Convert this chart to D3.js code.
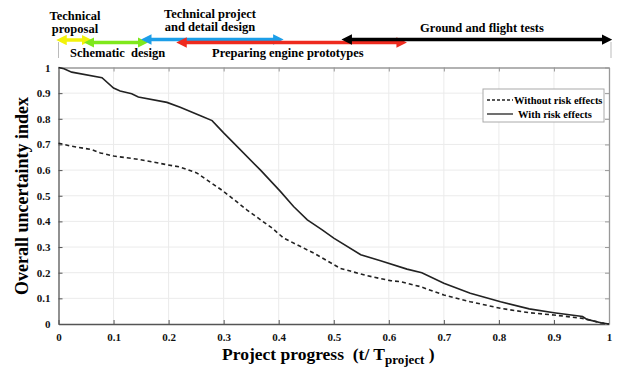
<!DOCTYPE html>
<html>
<head>
<meta charset="utf-8">
<script src="https://cdn.jsdelivr.net/npm/d3@7"></script>
<style>
  body { margin: 0; background: #fff; }
  text { font-family: "Liberation Serif", "Times New Roman", serif; font-weight: bold; }
</style>
</head>
<body>
<div id="chart"></div>
<script>
// overall uncertainty index vs project progress
var xWith = [0, 0.01, 0.024, 0.079, 0.1, 0.112, 0.133, 0.145, 0.197, 0.221, 0.258, 0.279, 0.3, 0.318, 0.367, 0.403, 0.427, 0.452, 0.479, 0.5, 0.549, 0.585, 0.633, 0.66, 0.7, 0.748, 0.803, 0.855, 0.9, 0.952, 0.96, 0.985, 1];
var yWith = [1, 0.995, 0.982, 0.96, 0.92, 0.908, 0.898, 0.885, 0.864, 0.845, 0.812, 0.793, 0.745, 0.706, 0.6, 0.517, 0.458, 0.406, 0.367, 0.335, 0.27, 0.247, 0.214, 0.2, 0.159, 0.12, 0.087, 0.059, 0.044, 0.029, 0.018, 0.005, 0];

var xWithout = [0, 0.024, 0.06, 0.076, 0.1, 0.148, 0.197, 0.221, 0.251, 0.3, 0.342, 0.388, 0.409, 0.464, 0.512, 0.561, 0.603, 0.621, 0.657, 0.7, 0.748, 0.803, 0.855, 0.9, 0.952, 0.985, 1];
var yWithout = [0.705, 0.693, 0.68, 0.667, 0.655, 0.641, 0.621, 0.612, 0.589, 0.517, 0.445, 0.374, 0.335, 0.276, 0.217, 0.188, 0.169, 0.165, 0.146, 0.113, 0.087, 0.061, 0.044, 0.035, 0.022, 0.005, 0];

var xTicks = [0, 0.1, 0.2, 0.3, 0.4, 0.5, 0.6, 0.7, 0.8, 0.9, 1];
var yTicks = [0, 0.1, 0.2, 0.3, 0.4, 0.5, 0.6, 0.7, 0.8, 0.9, 1];

// project phases (start / end in units of project progress)
var phaseNames = ['Technical proposal', 'Schematic design', 'Technical project and detail design', 'Preparing engine prototypes', 'Ground and flight tests'];
var phaseStart = [0, 0.05, 0.154, 0.218, 0.518];
var phaseEnd = [0.055, 0.157, 0.403, 0.627, 1.0];

var seriesNames = ['Without risk effects', 'With risk effects'];

var W = 622, H = 367;
var margin = { top: 67.5, right: 13, bottom: 43, left: 58.5 };

var svg = d3.select('#chart').append('svg')
  .attr('width', W)
  .attr('height', H);

var x = d3.scaleLinear().domain([0, 1]).range([margin.left, W - margin.right]);
var y = d3.scaleLinear().domain([0, 1]).range([H - margin.bottom, margin.top]);

// grid
svg.append('g').selectAll('line.gx')
  .data(xTicks.slice(1, -1))
 .enter().append('line')
  .attr('x1', function(d) { return x(d); })
  .attr('x2', function(d) { return x(d); })
  .attr('y1', y(0)).attr('y2', y(1))
  .style('stroke', '#ebebeb').style('stroke-width', 1);
svg.append('g').selectAll('line.gy')
  .data(yTicks.slice(1, -1))
 .enter().append('line')
  .attr('y1', function(d) { return y(d); })
  .attr('y2', function(d) { return y(d); })
  .attr('x1', x(0)).attr('x2', x(1))
  .style('stroke', '#ebebeb').style('stroke-width', 1);

// axes (ticks inward, box)
var fmt = function(d) { return d === 0 || d === 1 ? String(d) : d3.format('.1f')(d); };
var xAxis = svg.append('g')
  .attr('transform', 'translate(0,' + y(0) + ')')
  .call(d3.axisBottom(x).tickValues(xTicks).tickFormat(fmt).tickSizeInner(-4).tickSizeOuter(0).tickPadding(9));
var yAxis = svg.append('g')
  .attr('transform', 'translate(' + x(0) + ',0)')
  .call(d3.axisLeft(y).tickValues(yTicks).tickFormat(fmt).tickSizeInner(-4).tickSizeOuter(0).tickPadding(8));
var xTop = svg.append('g')
  .attr('transform', 'translate(0,' + y(1) + ')')
  .call(d3.axisTop(x).tickValues(xTicks).tickFormat('').tickSizeInner(-4).tickSizeOuter(0));
var yRight = svg.append('g')
  .attr('transform', 'translate(' + x(1) + ',0)')
  .call(d3.axisRight(y).tickValues(yTicks).tickFormat('').tickSizeInner(-4).tickSizeOuter(0));

[xAxis, yAxis].forEach(function(a) {
  a.selectAll('path').style('stroke', '#555').style('stroke-width', 1.3);
  a.selectAll('line').style('stroke', '#555');
  a.selectAll('text').style('font-size', '11px').style('fill', '#111');
});
[xTop, yRight].forEach(function(a) {
  a.selectAll('path').style('stroke', '#999').style('stroke-width', 1.3);
  a.selectAll('line').style('stroke', '#999');
});

// lines
var line = d3.line()
  .x(function(d) { return x(d[0]); })
  .y(function(d) { return y(d[1]); });

svg.append('path')
  .datum(d3.zip(xWithout, yWithout))
  .attr('d', line)
  .style('fill', 'none').style('stroke', '#222').style('stroke-width', 1.6)
  .style('stroke-dasharray', '4,3');

svg.append('path')
  .datum(d3.zip(xWith, yWith))
  .attr('d', line)
  .style('fill', 'none').style('stroke', '#222').style('stroke-width', 1.6);

// legend
var lg = svg.append('g').attr('transform', 'translate(483,89)');
lg.append('rect')
  .attr('width', 121).attr('height', 33)
  .style('fill', '#fff').style('stroke', '#aaa').style('stroke-width', 1);
lg.selectAll('line.leg')
  .data(seriesNames)
 .enter().append('line')
  .attr('x1', 4).attr('x2', 30)
  .attr('y1', function(d, i) { return 11 + i * 14; })
  .attr('y2', function(d, i) { return 11 + i * 14; })
  .style('stroke', '#222').style('stroke-width', 1.3)
  .style('stroke-dasharray', function(d, i) { return i === 0 ? '3,2' : null; });
lg.selectAll('text.leg')
  .data(seriesNames)
 .enter().append('text')
  .attr('x', function(d, i) { return i === 0 ? 31 : 35; })
  .attr('y', function(d, i) { return 14.5 + i * 14; })
  .style('font-size', '10.5px')
  .text(function(d) { return d; });

// axis titles
svg.append('text')
  .attr('transform', 'translate(28,196) rotate(-90)')
  .attr('text-anchor', 'middle')
  .style('font-size', '18px')
  .text('Overall uncertainty index');

var xt = svg.append('text')
  .attr('x', 222).attr('y', 360)
  .style('font-size', '17.5px');
xt.append('tspan').text('Project progress\u00a0\u00a0(t/ T');
xt.append('tspan').attr('dy', 4).style('font-size', '13px').text('project');
xt.append('tspan').attr('dy', -4).text('\u00a0)');

// phase bars
var phaseColor = d3.scaleOrdinal().domain(phaseNames)
  .range(['#f2f20a', '#7fe81c', '#1c9ee8', '#ee2a1e', '#000000']);
var rowY = [40, 42.5, 39.5, 42.5, 39.5];

var defs = svg.append('defs');
phaseNames.forEach(function(n, i) {
  defs.append('marker')
    .attr('id', 'arr' + i)
    .attr('viewBox', '0 -5 10 10')
    .attr('refX', 5).attr('refY', 0)
    .attr('markerWidth', 3).attr('markerHeight', 3)
    .attr('orient', 'auto-start-reverse')
    .append('path').attr('d', 'M0,-5L10,0L0,5Z')
    .style('fill', phaseColor(n));
});

svg.append('g').selectAll('line.phase')
  .data(phaseNames)
 .enter().append('line')
  .attr('x1', function(d, i) { return x(phaseStart[i]) + 3; })
  .attr('x2', function(d, i) { return x(phaseEnd[i]) - 2; })
  .attr('y1', function(d, i) { return rowY[i]; })
  .attr('y2', function(d, i) { return rowY[i]; })
  .style('stroke', function(d) { return phaseColor(d); })
  .style('stroke-width', 3.5)
  .attr('marker-start', function(d, i) { return 'url(#arr' + i + ')'; })
  .attr('marker-end', function(d, i) { return 'url(#arr' + i + ')'; });

// small end marks above plot
[0, 1].forEach(function(v) {
  svg.append('line')
    .attr('x1', x(v) + (v ? 2 : 0)).attr('x2', x(v) + (v ? 2 : 0))
    .attr('y1', 42).attr('y2', 58)
    .style('stroke', '#bbb').style('stroke-width', 1);
});

// phase labels
var labelPos = [
  { x: 75, y: 20, lines: ['Technical', 'proposal'] },
  { x: 70, y: 57, lines: ['Schematic\u00a0 design'], anchor: 'start' },
  { x: 210, y: 18, lines: ['Technical project', 'and detail design'] },
  { x: 212, y: 57, lines: ['Preparing engine prototypes'], anchor: 'start' },
  { x: 482, y: 32, lines: ['Ground and flight tests'] }
];
labelPos.forEach(function(p) {
  var t = svg.append('text')
    .attr('x', p.x).attr('y', p.y)
    .attr('text-anchor', p.anchor || 'middle')
    .style('font-size', '12.5px');
  p.lines.forEach(function(l, j) {
    t.append('tspan').attr('x', p.x).attr('dy', j ? 13 : 0).text(l);
  });
});
</script>
</body>
</html>
